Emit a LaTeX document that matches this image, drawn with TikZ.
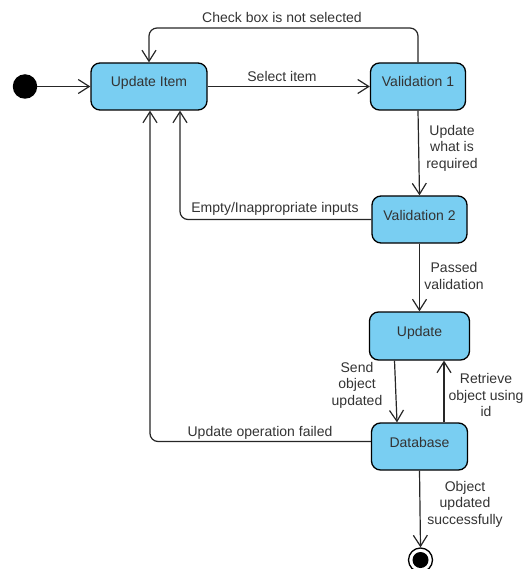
\documentclass[tikz,border=0pt]{standalone}
\usepackage{fontspec}
\setmainfont{Liberation Sans}
\usetikzlibrary{arrows.meta,calc}
\definecolor{stateblue}{RGB}{121,206,242}
\definecolor{labelgray}{RGB}{51,51,51}
\begin{document}
\begin{tikzpicture}[x=1pt,y=-1pt,
  every node/.style={font=\fontsize{14}{16.5}\selectfont, text=labelgray},
  statebox/.style={draw=black, line width=1.3pt, fill=stateblue, rounded corners=9pt,
    minimum width=96pt, minimum height=47pt, inner sep=0pt,
    text height=10pt, text depth=9pt},
  lbl/.style={align=center, inner sep=0pt},
  arr/.style={draw=black!85, line width=1.2pt,
    -{Straight Barb[length=11pt,width=14pt,line width=1.2pt]}},
  elbow/.style={rounded corners=8pt}]
\useasboundingbox (0,0) rectangle (526,569);
\clip (0,0) rectangle (526,569);

% initial state
\node[circle, fill=black, minimum size=24.5pt, inner sep=0pt] (start) at (25,86.5) {};

% states
\node[statebox, minimum width=116pt] (ui) at (149,86.5) {Update Item};
\node[statebox, minimum width=95pt] (v1) at (418,86.5) {Validation 1};
\node[statebox, minimum width=95pt] (v2) at (419.5,219.5) {Validation 2};
\node[statebox, minimum width=100pt, minimum height=48pt] (upd) at (419.5,336) {Update};
\node[statebox, minimum width=96pt] (db) at (419.5,446.5) {Database};

% final state
\node[circle, draw=black, line width=1.3pt, minimum size=24pt, inner sep=0pt] (final) at (420.5,560) {};
\node[circle, fill=black, minimum size=16pt, inner sep=0pt] (finaldot) at (final.center) {};

% route helpers
\coordinate (top) at (0,28);

% transitions
\draw[arr] (start) -- (ui.west);
\draw[arr] (ui.east) -- (v1.west);
\draw[arr, elbow] (v1.north) -- (v1.north |- top) -| (ui.north);
\draw[arr] (v1.south) -- (v2.north);
\draw[arr, elbow] (v2.west) -| ([xshift=31pt]ui.south);
\draw[arr] (v2.south) -- (upd.north);
\draw[arr] ([xshift=-25pt]upd.south) -- ([xshift=-22.5pt]db.north);
\draw[arr] ([xshift=24.5pt]db.north) -- ([xshift=24.5pt]upd.south);
\draw[arr, elbow] ([yshift=5pt]db.west) -| ([xshift=1pt]ui.south);
\draw[arr] (db.south) -- (final.north);

% transition labels
\node[lbl] (lcheck) at (282,17) {Check box is not selected};
\node[lbl] (lselect) at (282,76) {Select item};
\node[lbl] (lrequired) at (452,148) {Update\\what is\\required};
\node[lbl] (lempty) at (275,209) {Empty/Inappropriate inputs};
\node[lbl] (lpassed) at (454,276) {Passed\\validation};
\node[lbl] (lsend) at (357,385) {Send\\object\\updated};
\node[lbl] (lretrieve) at (486,395) {Retrieve\\object using\\id};
\node[lbl] (lfailed) at (260,433) {Update operation failed};
\node[lbl] (lsuccess) at (465,504) {Object\\updated\\successfully};
\end{tikzpicture}
\end{document}
